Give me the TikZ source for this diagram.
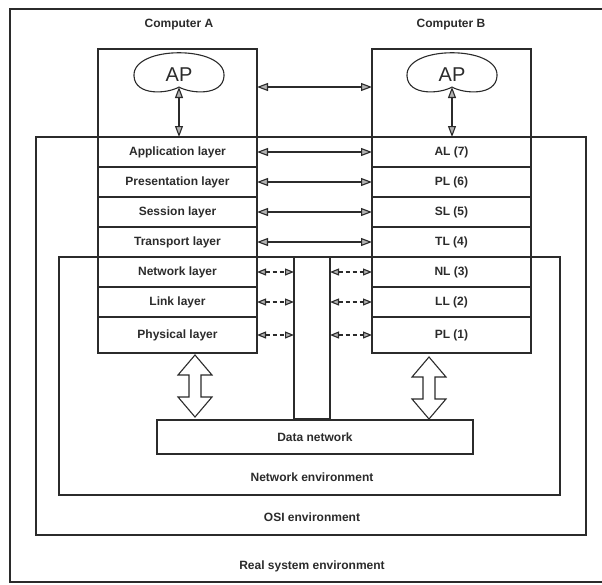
\documentclass[tikz,border=0pt]{standalone}
\usepackage{fontspec}
\setmainfont{Liberation Sans}
\usetikzlibrary{positioning,arrows.meta}

\definecolor{ink}{HTML}{2B2B2B}
\newcommand{\labelfont}{\bfseries\fontsize{12}{14}\selectfont}

\tikzset{
  frame/.style={draw=ink, line width=1.1pt},
  hostbox/.style={frame, minimum width=159pt, minimum height=88pt, inner sep=0pt, outer sep=0pt},
  layerbox/.style={frame, minimum width=159pt, minimum height=30pt, inner sep=0pt, outer sep=0pt, font=\labelfont, text=ink},
  peerlink/.style={draw=ink, line width=1.1pt, {Triangle[length=11pt,width=8pt,fill=gray!60]}-{Triangle[length=11pt,width=8pt,fill=gray!60]}},
  locallink/.style={draw=ink, line width=1.1pt, dash pattern=on 4pt off 3pt, {Triangle[length=9pt,width=7pt,fill=gray!60]}-{Triangle[length=9pt,width=7pt,fill=gray!60]}},
  envlabel/.style={font=\labelfont, text=ink},
  apcloud/.pic={
    \draw[frame] (-45,4) .. controls (-47,-27) and (47,-27) .. (45,4)
      .. controls (44,24) and (12,22) .. (0,15)
      .. controls (-12,22) and (-44,24) .. (-45,4);
    \coordinate (-dip) at (0,15);
  },
  hollowarrow/.pic={
    \draw[frame, fill=white, line join=miter] (0,-31) -- (17,-11) -- (6,-11) -- (6,11) -- (17,11)
      -- (0,31) -- (-17,11) -- (-6,11) -- (-6,-11) -- (-17,-11) -- cycle;
  },
}

\begin{document}
\begin{tikzpicture}[x=1pt,y=-1pt]
\useasboundingbox (0,0) rectangle (602,584);
% environments
\draw[frame] (10,9) rectangle (608,582);
\draw[frame] (36,137) rectangle (586,535);
\draw[frame] (59,257) rectangle (560,495);
\node[envlabel] (realenv) at (312,566) {Real system environment};
\node[envlabel] (osienv) at (312,517) {OSI environment};
\node[envlabel] (netenv) at (312,477) {Network environment};

% computer A
\node[envlabel] (compA) at (179,25) {Computer A};
\node[hostbox] (hostA) at (177.5,93) {};
\node[layerbox, below=0pt of hostA] (alA) {Application layer};
\node[layerbox, below=0pt of alA] (plA) {Presentation layer};
\node[layerbox, below=0pt of plA] (slA) {Session layer};
\node[layerbox, below=0pt of slA] (tlA) {Transport layer};
\node[layerbox, below=0pt of tlA] (nlA) {Network layer};
\node[layerbox, below=0pt of nlA] (llA) {Link layer};
\node[layerbox, below=0pt of llA, minimum height=36pt] (phA) {Physical layer};
\pic (cloudA) at (179,72) {apcloud};
\node[font=\fontsize{20}{22}\selectfont, text=ink] (apA) at (179,75) {AP};

% computer B
\node[envlabel] (compB) at (451,25) {Computer B};
\node[hostbox] (hostB) at (451.5,93) {};
\node[layerbox, below=0pt of hostB] (alB) {AL (7)};
\node[layerbox, below=0pt of alB] (plB) {PL (6)};
\node[layerbox, below=0pt of plB] (slB) {SL (5)};
\node[layerbox, below=0pt of slB] (tlB) {TL (4)};
\node[layerbox, below=0pt of tlB] (nlB) {NL (3)};
\node[layerbox, below=0pt of nlB] (llB) {LL (2)};
\node[layerbox, below=0pt of llB, minimum height=36pt] (phB) {PL (1)};
\pic (cloudB) at (452,72) {apcloud};
\node[font=\fontsize{20}{22}\selectfont, text=ink] (apB) at (452,75) {AP};

% data network
\node[frame, minimum width=36pt, minimum height=162pt, inner sep=0pt, outer sep=0pt] (pillar) at (312,338) {};
\node[frame, minimum width=316pt, minimum height=34pt, inner sep=0pt, outer sep=0pt, font=\labelfont, text=ink] (dnet) at (315,437) {Data network};
\pic at (195,386) {hollowarrow};
\pic at (429,388) {hollowarrow};

% peer protocols
\draw[peerlink] ([yshift=6pt]hostA.east) -- ([yshift=6pt]hostB.west);
\draw[peerlink] (cloudA-dip) -- (cloudA-dip |- alA.north);
\draw[peerlink] (cloudB-dip) -- (cloudB-dip |- alB.north);
\draw[peerlink] (alA) -- (alB);
\draw[peerlink] (plA) -- (plB);
\draw[peerlink] (slA) -- (slB);
\draw[peerlink] (tlA) -- (tlB);
\draw[locallink] (nlA.east) -- (nlA.east -| pillar.west);
\draw[locallink] (nlB.west -| pillar.east) -- (nlB.west);
\draw[locallink] (llA.east) -- (llA.east -| pillar.west);
\draw[locallink] (llB.west -| pillar.east) -- (llB.west);
\draw[locallink] (phA.east) -- (phA.east -| pillar.west);
\draw[locallink] (phB.west -| pillar.east) -- (phB.west);
\end{tikzpicture}
\end{document}
